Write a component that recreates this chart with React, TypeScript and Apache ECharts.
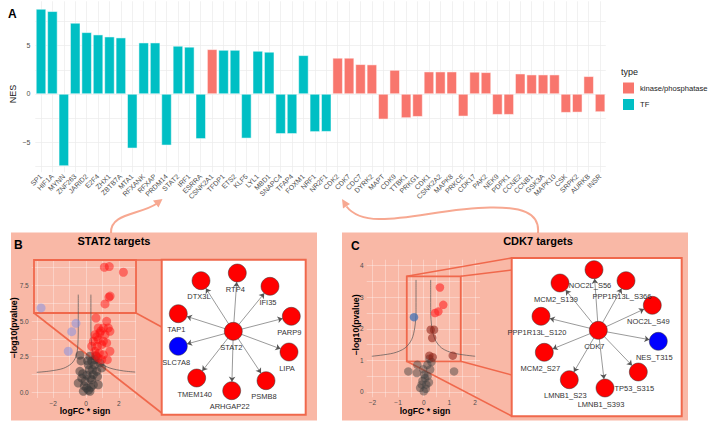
import React, { useEffect, useRef } from "react";
import * as echarts from "echarts";

const FONT = "Liberation Sans, Arial, Helvetica, sans-serif";
const K = "kinase/phosphatase";
const T = "TF";

// ---------- Panel A: NES bar chart ----------
const categories = ["SP1","HIF1A","MYNN","ZNF263","JARID2","E2F4","ZHX1","ZBTB7A","MTA1","RFXANK","RFXAP","PRDM14","STAT2","IRF1","ESRRA","CSNK2A1","TFDP1","ETS2","KLF5","LYL1","MBD1","SNAPC4","TFAP4","FOXM1","NRF1","NR2F1","CDK2","CDK7","CDC7","DYRK2","MAPT","CDK9","TTBK1","PRKG1","CDK1","CSNK2A2","MAPK8","PRKCE","CDK17","PAK2","NEK9","PDPK1","CCNE2","CCNB1","GSK3A","MAPK10","CSK","SRPK2","AURKB","INSR"];
const nesValues = [8.8,8.56,-7.45,7.35,6.38,6.14,5.93,5.83,-5.62,5.31,5.31,-5.31,4.97,4.87,-4.64,4.62,4.55,4.55,-4.59,4.45,4.35,-4.12,-4.12,4.0,-3.92,-3.9,3.73,3.73,3.07,3.04,-2.62,2.48,-2.48,-2.35,2.31,2.31,2.31,-2.31,2.28,2.24,-2.14,-2.14,2.1,2.0,2.0,2.0,-1.93,-1.9,1.83,-1.86];
const regulatorTypes = [T,T,T,T,T,T,T,T,T,T,T,T,T,T,T,K,T,T,T,T,T,T,T,T,T,T,K,K,K,K,K,K,K,K,K,K,K,K,K,K,K,K,K,K,K,K,K,K,K,K];
const nesGridValues = [-7.5,-5,-2.5,0,2.5,5,7.5];
const nesTickLabels = [-5,0,5];

// ---------- Panel B: STAT2 volcano ----------
const stat2Up = [[1.12,8.77],[1.42,8.82],[2.28,8.42],[1.40,6.67],[1.47,6.75],[1.16,6.2],[0.61,5.21],[1.26,4.98],[0.75,4.51],[1.06,4.51],[1.36,4.51],[0.55,4.04],[0.85,4.16],[1.16,4.04],[1.46,4.28],[0.45,3.58],[0.75,3.69],[1.06,3.58],[0.35,3.23],[0.69,3.23],[0.96,3.34],[1.26,3.46],[0.55,2.88],[0.81,2.76],[1.06,2.64],[0.75,2.41],[0.96,2.29],[1.46,2.88],[1.30,2.29],[0.9,4.3],[0.65,3.9],[0.6,2.6]];
const stat2Down = [[-2.74,5.92],[-0.61,4.84],[-0.87,4.25],[-1.08,2.88]];
const stat2NotSig = [[-0.37,2.6],[0.24,2.53],[0.61,2.53],[0.35,2.18],[0.14,1.94],[0.85,2.06],[-0.37,1.47],[0.2,1.59],[0.45,1.24],[-0.26,1.0],[-0.06,0.77],[0.35,0.88],[0.65,1.47],[0.96,1.71],[0.75,0.53],[0.04,0.3],[-0.16,0.07],[0.24,0.07],[0.45,0.53],[-0.47,0.65],[0.05,1.2],[0.5,1.9],[-0.1,0.45],[0.15,0.15],[0.3,0.35],[0.55,2.3],[0.7,1.1],[-0.2,1.3],[0.1,2.2],[0.4,1.6],[-0.3,2.2],[0.25,1.0]];
const stat2CurveLeft = [[-0.47,6.85],[-0.47,4.5],[-0.51,3.1],[-0.61,2.5],[-0.87,2.03],[-1.38,1.68],[-2.2,1.49],[-3.0,1.4]];
const stat2CurveRight = [[0.3,6.85],[0.3,4.5],[0.37,3.1],[0.55,2.4],[0.85,2.05],[1.46,1.7],[2.28,1.5],[3.0,1.42]];
const stat2Box = [[-3.17, 9.28], [3.05, 5.56]];
const stat2XGrid = [-3,-2,-1,0,1,2,3];
const stat2XLabels = [-2,0,2];
const stat2YGrid = [0,1.25,2.5,3.75,5,6.25,7.5,8.75];
const stat2YLabels = [0,2.5,5,7.5];

// ---------- Panel C: CDK7 volcano ----------
const cdk7Up = [[0.63,3.31],[0.76,2.76],[0.57,2.55],[0.44,2.5]];
const cdk7UpWeak = [[0.27,1.97],[0.40,1.97],[0.33,1.71],[0.22,1.15],[0.35,1.1],[1.13,1.15]];
const cdk7Down = [[-0.38,2.37]];
const cdk7NotSig = [[-0.6,0.65],[-0.27,0.6],[-0.25,0.86],[0.14,0.86],[0.25,0.71],[1.18,0.65],[0.05,0.44],[-0.08,0.23],[0.1,0.23],[-0.14,0.13],[0.0,0.02],[0.15,0.5],[0.02,0.55],[-0.05,0.35],[0.08,0.1],[0.2,0.3],[-0.02,0.72],[0.3,0.95],[0.22,1.05]];
const cdk7CurveLeft = [[-0.30,3.55],[-0.30,2.55],[-0.35,2.03],[-0.47,1.66],[-0.73,1.39],[-1.18,1.23],[-2.02,1.13]];
const cdk7CurveRight = [[0.27,3.55],[0.27,2.55],[0.32,2.03],[0.44,1.66],[0.70,1.39],[1.15,1.23],[2.0,1.13]];
const cdk7Box = [[-0.66, 3.66], [1.44, 0.97]];
const cdk7XGrid = [-2,-1.5,-1,-0.5,0,0.5,1,1.5,2];
const cdk7XLabels = [-2,-1,0,1,2];
const cdk7YGrid = [0,0.5,1,1.5,2,2.5,3,3.5,4];
const cdk7YLabels = [0,1,2,3,4];

// ---------- Networks (layout positions inside each box) ----------
const stat2Network: [string, number, number, string][] = [
  ["STAT2",71.6,71.6,"up"],["RTP4",75.6,13.3,"up"],["DTX3L",39.3,21,"up"],["IFI35",108.3,26.6,"up"],
  ["TAP1",16.6,54,"up"],["PARP9",129.6,56.6,"up"],["SLC7A8",16.6,86.6,"down"],["LIPA",127.3,92.3,"up"],
  ["TMEM140",35,118.3,"up"],["ARHGAP22",70,131,"up"],["PSMB8",104.3,121,"up"],
];
const cdk7Network: [string, number, number, string][] = [
  ["CDK7",86.6,72.3,"up"],["NOC2L_S56",82.3,11.7,"up"],["PPP1R13L_S366",114.3,22.7,"up"],["MCM2_S139",48.3,25,"up"],
  ["NOC2L_S49",140.6,47.3,"up"],["PPP1R13L_S120",29.3,58.3,"up"],["NES_T315",146.6,83.3,"down"],["MCM2_S27",32.6,94.3,"up"],
  ["TP53_S315",126.6,114,"up"],["LMNB1_S23",57.6,121.7,"up"],["LMNB1_S393",93.3,130,"up"],
];

const minus = (v: number) => (v < 0 ? "\u2212" + Math.abs(v) : String(v));

function volcanoAxes(idx: number, xr: number[], yr: number[], xGrid: number[], xLab: number[], yGrid: number[], yLab: number[], yFmt: (v: number) => string) {
  const split = { show: true, lineStyle: { color: "rgba(255,255,255,0.55)", width: 0.6 } };
  const x = {
    type: "value", gridIndex: idx, min: xr[0], max: xr[1],
    axisLine: { show: false }, axisTick: { show: false, customValues: xGrid },
    axisLabel: { customValues: xLab, fontSize: 6.5, color: "#4d4d4d", margin: 2, fontFamily: FONT, formatter: minus },
    splitLine: split,
  };
  const y = {
    type: "value", gridIndex: idx, min: yr[0], max: yr[1],
    axisLine: { show: false }, axisTick: { show: false, customValues: yGrid },
    axisLabel: { customValues: yLab, fontSize: 6.5, color: "#4d4d4d", margin: 3, fontFamily: FONT, formatter: yFmt },
    splitLine: split,
  };
  return [x, y];
}

function networkSeries(idx: number, net: [string, number, number, string][], labelOffset: number[]) {
  const center = net[0][0];
  return {
    type: "graph", coordinateSystem: "cartesian2d", xAxisIndex: idx, yAxisIndex: idx,
    symbolSize: 18, silent: true, z: 5,
    edgeSymbol: ["none", "arrow"], edgeSymbolSize: [0, 5],
    label: { show: true, position: "bottom", distance: 3, fontSize: 7.5, color: "#333", fontFamily: FONT, offset: labelOffset },
    lineStyle: { color: "#555", width: 0.6, opacity: 1, curveness: 0 },
    data: net.map(([name, x, y, kind]) => ({
      name, value: [x, y],
      itemStyle: { color: kind === "up" ? "#ff0000" : "#0000ff", borderColor: "#333", borderWidth: 0.5 },
    })),
    links: net.slice(1).map(([name]) => ({ source: center, target: name })),
  };
}

function scatter(idx: number, data: number[][], color: string, size: number) {
  return { type: "scatter", xAxisIndex: idx, yAxisIndex: idx, data, symbolSize: size, itemStyle: { color }, silent: true, z: 3 };
}
function curve(idx: number, data: number[][]) {
  return { type: "line", xAxisIndex: idx, yAxisIndex: idx, data, showSymbol: false, smooth: 0.3, silent: true, lineStyle: { color: "#555", width: 0.7 }, z: 2 };
}
function boxArea(box: number[][]) {
  return {
    silent: true,
    itemStyle: { color: "rgba(255,255,255,0.06)", borderColor: "#f0684c", borderWidth: 1.8 },
    data: [[{ coord: box[0] }, { coord: box[1] }]],
  };
}

const CORAL = "#f0684c";
const SALMON = "#f9b8a6";
const ARROW = "#f7a891";

function txt(text: string, x: number, y: number, size: number, opts: any = {}) {
  return {
    type: "text", x, y, z: 10, rotation: opts.rotation || 0,
    style: {
      text, fill: opts.color || "#000", fontSize: size, fontWeight: opts.bold ? "bold" : "normal",
      fontFamily: FONT, textAlign: opts.align || "center", textVerticalAlign: "middle",
    },
  };
}
function seg(x1: number, y1: number, x2: number, y2: number) {
  return { type: "line", z: 1, shape: { x1, y1, x2, y2 }, style: { stroke: CORAL, lineWidth: 1.6 } };
}

const option: any = {
  animation: false,
  backgroundColor: "#fff",
  textStyle: { fontFamily: FONT },
  legend: {
    data: [K, T], orient: "vertical", left: 621, top: 80.5, itemWidth: 13, itemHeight: 13, itemGap: 1.5,
    icon: "rect", padding: 0, selectedMode: false,
    textStyle: { fontSize: 7.6, color: "#1a1a1a", fontFamily: FONT },
  },
  grid: [
    { left: 35.3, top: 1.25, width: 570.5, height: 171 },
    { left: 31.7, top: 259.7, width: 104.3, height: 138.3 },
    { left: 161.7, top: 259.7, width: 144, height: 155, show: true, backgroundColor: "#fff", borderColor: CORAL, borderWidth: 2 },
    { left: 366.7, top: 259.7, width: 113.3, height: 137.6 },
    { left: 511.7, top: 258, width: 170, height: 158.3, show: true, backgroundColor: "#fff", borderColor: CORAL, borderWidth: 2 },
  ],
  xAxis: [
    {
      type: "category", gridIndex: 0, data: categories,
      axisLine: { show: false }, axisTick: { show: false },
      axisLabel: { interval: 0, rotate: 45, fontSize: 7, color: "#4d4d4d", margin: 3, fontFamily: FONT },
      splitLine: { show: true, alignWithLabel: true, lineStyle: { color: "#ebebeb", width: 0.7 } },
    },
  ],
  yAxis: [
    {
      type: "value", gridIndex: 0, min: -8.1, max: 9.6,
      axisLine: { show: false }, axisTick: { show: false, customValues: nesGridValues },
      axisLabel: { customValues: nesTickLabels, fontSize: 7, color: "#4d4d4d", margin: 5, fontFamily: FONT, formatter: minus },
      splitLine: { show: true, lineStyle: { color: "#ebebeb", width: 0.7 } },
    },
  ],
  series: [] as any[],
  graphic: [] as any[],
};

const [bx, by] = volcanoAxes(1, [-3.31, 3.05], [-0.4, 9.3], stat2XGrid, stat2XLabels, stat2YGrid, stat2YLabels, (v: number) => v.toFixed(1));
const [cx, cy] = volcanoAxes(3, [-2.22, 2.19], [-0.17, 4.19], cdk7XGrid, cdk7XLabels, cdk7YGrid, cdk7YLabels, (v: number) => String(v));
option.xAxis.push(bx, { type: "value", gridIndex: 2, min: 0, max: 144, show: false }, cx, { type: "value", gridIndex: 4, min: 0, max: 170, show: false });
option.yAxis.push(by, { type: "value", gridIndex: 2, min: 0, max: 155, inverse: true, show: false }, cy, { type: "value", gridIndex: 4, min: 0, max: 158.3, inverse: true, show: false });

option.series.push(
  {
    type: "bar", name: K, xAxisIndex: 0, yAxisIndex: 0, barGap: "-100%", barCategoryGap: "12%",
    data: nesValues.map((v, i) => (regulatorTypes[i] === K ? v : "-")),
    itemStyle: { color: "#F8766D", borderColor: "#fff", borderWidth: 0.5 },
  },
  {
    type: "bar", name: T, xAxisIndex: 0, yAxisIndex: 0, barGap: "-100%", barCategoryGap: "12%",
    data: nesValues.map((v, i) => (regulatorTypes[i] === T ? v : "-")),
    itemStyle: { color: "#00BFC4", borderColor: "#fff", borderWidth: 0.5 },
  },
  { ...scatter(1, stat2NotSig, "rgba(55,55,55,0.65)", 9), markArea: boxArea(stat2Box) },
  scatter(1, stat2Up, "rgba(255,15,15,0.6)", 9),
  scatter(1, stat2Down, "rgba(120,140,235,0.6)", 9),
  curve(1, stat2CurveLeft),
  curve(1, stat2CurveRight),
  networkSeries(2, stat2Network, [-2, 0]),
  { ...scatter(3, cdk7NotSig, "rgba(65,65,65,0.6)", 8.5), markArea: boxArea(cdk7Box) },
  scatter(3, cdk7UpWeak, "rgba(140,30,20,0.7)", 8.5),
  scatter(3, cdk7Up, "rgba(255,35,35,0.75)", 8.5),
  scatter(3, cdk7Down, "rgba(60,110,180,0.9)", 8.5),
  curve(3, cdk7CurveLeft),
  curve(3, cdk7CurveRight),
  networkSeries(4, cdk7Network, [-4, 0]),
);

option.graphic = [
  { type: "rect", z: -1, shape: { x: 11, y: 232.5, width: 306, height: 188 }, style: { fill: SALMON } },
  { type: "rect", z: -1, shape: { x: 342, y: 232.5, width: 346, height: 188 }, style: { fill: SALMON } },
  seg(136, 260, 161.7, 260),
  seg(136, 313, 161.7, 327),
  seg(34, 313, 161.7, 413),
  seg(406.7, 276.3, 511.7, 258),
  seg(460.7, 276.3, 511.7, 270),
  seg(460.7, 361.3, 511.7, 375),
  seg(406.7, 361.3, 511.7, 416),
  { type: "bezierCurve", z: 1, shape: { x1: 111, y1: 233, cpx1: 110, cpy1: 213, cpx2: 140, cpy2: 215, x2: 157, y2: 203.5 }, style: { stroke: ARROW, lineWidth: 2, fill: null } },
  { type: "polygon", z: 1, shape: { points: [[162.5, 199], [158.5, 207.5], [153, 200.5]] }, style: { fill: ARROW } },
  { type: "bezierCurve", z: 1, shape: { x1: 538, y1: 233, cpx1: 540, cpy1: 212, cpx2: 520, cpy2: 207, x2: 490, y2: 207.5 }, style: { stroke: ARROW, lineWidth: 2, fill: null } },
  { type: "bezierCurve", z: 1, shape: { x1: 490, y1: 207.5, cpx1: 430, cpy1: 208, cpx2: 368, cpy2: 234, x2: 346.5, y2: 206.5 }, style: { stroke: ARROW, lineWidth: 2, fill: null } },
  { type: "polygon", z: 1, shape: { points: [[342, 199], [350, 204], [343, 208.5]] }, style: { fill: ARROW } },
  txt("A", 8, 13.5, 12, { bold: true, align: "left" }),
  txt("NES", 13, 94, 9, { rotation: Math.PI / 2, color: "#1a1a1a" }),
  txt("type", 621, 72, 9, { align: "left", color: "#1a1a1a" }),
  txt("B", 14, 245, 12, { bold: true, align: "left" }),
  txt("STAT2 targets", 114, 241, 11, { bold: true }),
  txt("C", 351, 246, 12, { bold: true, align: "left" }),
  txt("CDK7 targets", 538, 241, 11, { bold: true }),
  txt("\u2212log10(pvalue)", 13.5, 328, 8.7, { bold: true, rotation: Math.PI / 2 }),
  txt("logFC * sign", 85, 411, 8.7, { bold: true }),
  txt("\u2212log10(pvalue)", 355.5, 325, 8.7, { bold: true, rotation: Math.PI / 2 }),
  txt("logFC * sign", 425, 411, 8.7, { bold: true }),
];

export default function App() {
  const ref = useRef<HTMLDivElement>(null);
  useEffect(() => {
    if (!ref.current) return;
    const chart = echarts.init(ref.current, null, { renderer: "svg" });
    chart.setOption(option);
    return () => chart.dispose();
  }, []);
  return <div ref={ref} style={{ position: "fixed", left: 0, top: 0, width: 709, height: 424, background: "#fff" }} />;
}
